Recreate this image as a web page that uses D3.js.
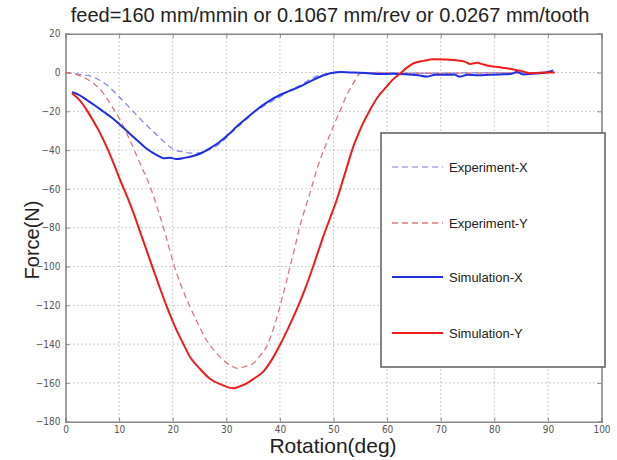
<!DOCTYPE html>
<html><head><meta charset="utf-8">
<script src="https://cdn.jsdelivr.net/npm/d3@7"></script>
<style>
body{margin:0;background:#fff;}
svg{display:block;}
</style></head>
<body>
<svg id="c" width="617" height="460"></svg>
<script>
const title = "feed=160 mm/mmin or 0.1067 mm/rev or 0.0267 mm/tooth";
const xLabel = "Rotation(deg)";
const yLabel = "Force(N)";
const xTicks = [0,10,20,30,40,50,60,70,80,90,100];
const yTicks = [20,0,-20,-40,-60,-80,-100,-120,-140,-160,-180];
const seriesNames = ["Experiment-X","Experiment-Y","Simulation-X","Simulation-Y"];

const expX = [[0,0],[2.5,-0.8],[5.2,-2.4],[7.5,-6],[10,-12.5],[12.6,-20],[14.5,-25.5],[16.4,-30.5],[18.3,-35.5],[20.1,-39.5],[22,-41],[23.8,-41.6],[25.5,-41.2],[27,-39.5],[28.8,-36.6],[31,-31],[33,-26],[35,-21],[37.5,-16.5],[40,-12.5],[42,-9],[44.4,-5.6],[46,-3],[47.5,-1.3],[49.4,-0.4],[52,0],[56,0],[60,-0.2],[65,-0.3],[70,-0.3],[75,-0.2],[80,-0.2],[85,-0.1],[90,0]];
const expY = [[0,0],[2.5,-1.5],[5.2,-5.6],[7,-10.5],[8.3,-15.9],[10.2,-24.5],[12,-34.8],[13.9,-46.8],[15.8,-58.9],[17.5,-73],[18.6,-83],[20.1,-98],[21.6,-110],[23.2,-120.7],[24.8,-130],[26.3,-137.9],[27.8,-143.5],[29.4,-148.2],[30.8,-151],[32.2,-152.5],[33.6,-151.5],[35,-150],[36.3,-146],[37.5,-141.3],[38.8,-132],[40,-120.7],[41,-110],[41.9,-100],[42.8,-90],[43.7,-79.5],[44.6,-71],[45.6,-62.3],[47,-49],[48.7,-36.5],[50,-27.5],[51.3,-19.3],[52.5,-11.5],[53.7,-5.6],[55,-0.4],[58,0],[62,-0.3],[70,-0.4],[80,-0.2],[90,0]];
const simX = [[1.2,-10.2],[2.5,-11.5],[4,-14.2],[5.5,-17],[7.1,-20.2],[8.6,-23.2],[10.2,-27],[11.8,-31],[13.3,-34.8],[14.8,-38.5],[16.4,-41.6],[17.3,-43],[18.3,-44.2],[19.5,-43.9],[20.7,-44.6],[22.2,-44],[23.8,-43],[25.4,-41.5],[27,-39],[28.8,-35.7],[30.4,-32],[31.9,-28],[33.6,-24],[35.6,-19.3],[37.8,-15],[40,-11.6],[41.8,-9.5],[43.7,-7.3],[45.5,-4.8],[47.5,-2.2],[49.4,-0.4],[51.5,0.2],[53.7,0],[56,-0.3],[58.7,-0.8],[61,-0.7],[63.5,-0.9],[65.5,-1.3],[67.5,-2.1],[69,-1.1],[71,-1.2],[72.5,-1],[73.6,-2.2],[75,-1.1],[77,-1.4],[79,-1.2],[81,-1.0],[83,-0.8],[84.2,0.2],[85.5,-1],[87,-0.6],[89,-0.3],[91,1]];
const simY = [[1.2,-10.7],[2.7,-14.5],[4,-19.5],[5.2,-25],[6.5,-31.5],[7.7,-38.5],[9,-47],[10.2,-55.5],[11.5,-64],[12.9,-74],[13.9,-82],[15.8,-97],[17.4,-109.5],[18.9,-120.7],[20.7,-132.7],[22,-140],[23.2,-146.5],[25,-152.5],[27,-158],[29,-160.8],[31.3,-162.8],[32.5,-161.8],[33.8,-160.2],[35.3,-157.5],[36.9,-154.2],[38.5,-148],[40,-140.5],[41.6,-131.5],[43.1,-122.4],[44.7,-111.5],[46.2,-100],[47.3,-91],[48.1,-84.5],[49.3,-75.5],[50.6,-65.7],[52.2,-51.5],[53.7,-38.2],[55.2,-28],[56.8,-19.3],[58.3,-12.5],[59.9,-7.3],[61,-3.8],[62.5,-0.4],[63.7,2.5],[64.9,4.7],[66.8,6],[68.7,6.8],[71,6.7],[73.6,6.1],[74.6,5.5],[75.5,4.4],[76.7,5],[78,4.1],[79.2,3.3],[81.5,2.5],[83.6,1.6],[85.2,0.7],[86.7,-0.4],[89,0],[91.3,0]];

const W = 617, H = 460;
const margin = {left:65.5, right:W-601.5, top:33.7, bottom:H-421.7};
const svg = d3.select("#c");
const x = d3.scaleLinear().domain([0,100]).range([margin.left, W-margin.right]);
const y = d3.scaleLinear().domain([-180,20]).range([H-margin.bottom, margin.top]);

const tickFont = "'Liberation Sans Narrow','Arial Narrow','DejaVu Sans Condensed',sans-serif";
const mainFont = "'Liberation Sans',Arial,sans-serif";

// grid
const grid = svg.append("g").attr("stroke","#9a9a9a").attr("stroke-width",1).attr("stroke-dasharray","1,3");
grid.selectAll("line.gx").data(xTicks.slice(1,-1)).join("line")
  .attr("x1",d=>x(d)).attr("x2",d=>x(d)).attr("y1",y(20)).attr("y2",y(-180));
grid.selectAll("line.gy").data(yTicks.slice(1,-1)).join("line")
  .attr("x1",x(0)).attr("x2",x(100)).attr("y1",d=>y(d)).attr("y2",d=>y(d));

// axes
const axB = d3.axisBottom(x).tickValues(xTicks).tickSize(-4).tickPadding(4).tickFormat(d3.format("d"));
const axT = d3.axisTop(x).tickValues(xTicks).tickSize(-4).tickFormat("");
const axL = d3.axisLeft(y).tickValues(yTicks).tickSize(-4).tickPadding(5).tickFormat(d3.format("d"));
const axR = d3.axisRight(y).tickValues(yTicks).tickSize(-4).tickFormat("");
function styleAxis(g){
  g.select(".domain").attr("stroke","#888").attr("stroke-width",1.6);
  g.selectAll(".tick line").attr("stroke","#888");
  g.selectAll(".tick text").attr("fill","#555").attr("font-size",10).attr("font-family",tickFont);
}
svg.append("g").attr("transform",`translate(0,${y(-180)})`).call(axB).call(styleAxis);
svg.append("g").attr("transform",`translate(0,${y(20)})`).call(axT).call(styleAxis);
svg.append("g").attr("transform",`translate(${x(0)},0)`).call(axL).call(styleAxis);
svg.append("g").attr("transform",`translate(${x(100)},0)`).call(axR).call(styleAxis);

// lines
const line = d3.line().x(d=>x(d[0])).y(d=>y(d[1])).curve(d3.curveMonotoneX);
const styles = {
  "Experiment-X":{data:expX,color:"#7f7fe6",dash:"6,4",w:1.2},
  "Experiment-Y":{data:expY,color:"#d87a7a",dash:"6,4",w:1.3},
  "Simulation-X":{data:simX,color:"#1f2fe0",dash:null,w:2},
  "Simulation-Y":{data:simY,color:"#ee1c1c",dash:null,w:2}
};
seriesNames.forEach(n=>{
  const s = styles[n];
  svg.append("path").datum(s.data).attr("d",line).attr("fill","none")
    .attr("stroke",s.color).attr("stroke-width",s.w).attr("stroke-dasharray",s.dash);
});

// legend
const lg = svg.append("g");
lg.append("rect").attr("x",381).attr("y",133).attr("width",224).attr("height",234)
  .attr("fill","#fff").attr("stroke","#666").attr("stroke-width",1.6);
const legY = [167,223,277,333];
seriesNames.forEach((n,i)=>{
  const s = styles[n];
  lg.append("line").attr("x1",392).attr("x2",443).attr("y1",legY[i]).attr("y2",legY[i])
    .attr("stroke",s.color).attr("stroke-width",s.w).attr("stroke-dasharray",s.dash);
  lg.append("text").attr("x",449).attr("y",legY[i]+4.5).text(n)
    .attr("font-family",mainFont).attr("font-size",13).attr("fill","#222");
});

// labels
svg.append("text").attr("x",330).attr("y",22).attr("text-anchor","middle")
  .attr("font-family",mainFont).attr("font-size",20).attr("fill","#222").text(title);
svg.append("text").attr("x",333).attr("y",453).attr("text-anchor","middle")
  .attr("font-family",mainFont).attr("font-size",21).attr("fill","#222").text(xLabel);
svg.append("text").attr("transform","translate(39,240) rotate(-90)").attr("text-anchor","middle")
  .attr("font-family",mainFont).attr("font-size",20).attr("fill","#222").text(yLabel);
</script>
</body></html>
